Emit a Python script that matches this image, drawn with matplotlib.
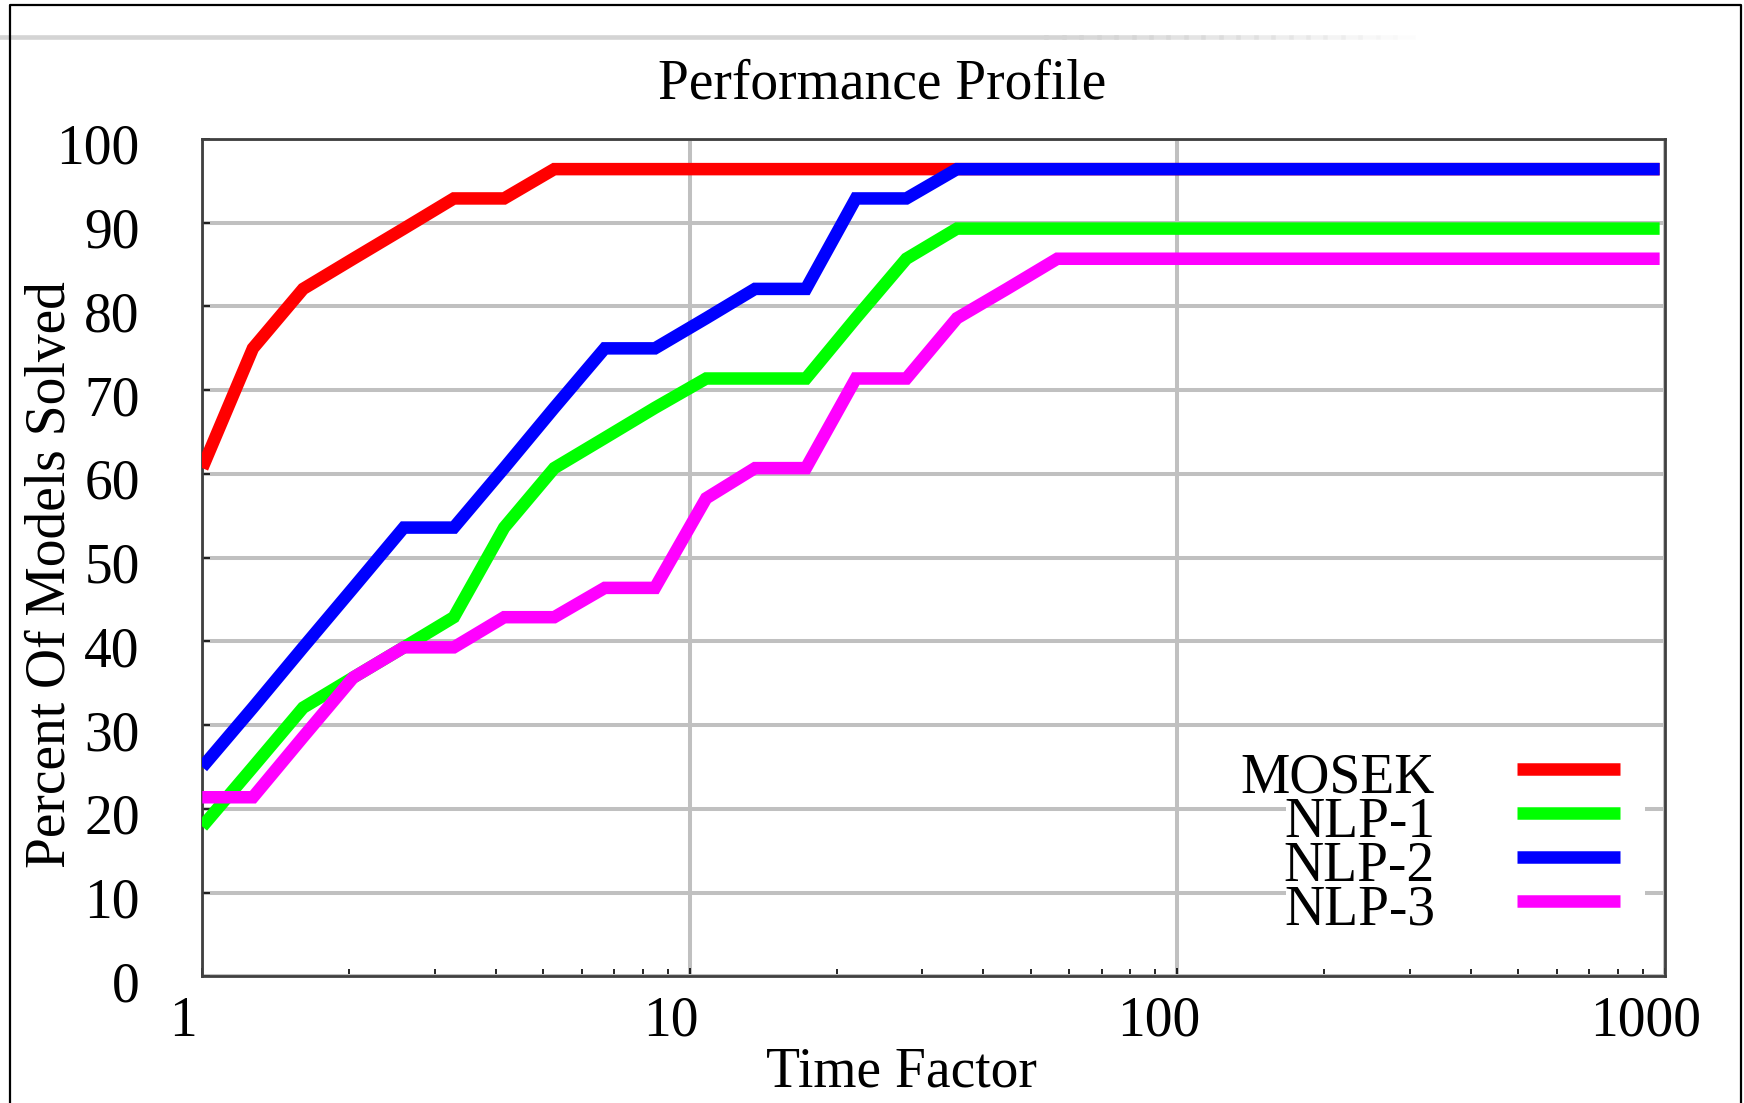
import matplotlib
matplotlib.use("Agg")
from matplotlib import pyplot as plt
import matplotlib.transforms as mtransforms
from matplotlib.ticker import NullFormatter
import numpy as np

plt.rcParams['font.family'] = ['Liberation Serif', 'DejaVu Serif']

## Du lieu doc tu hinh (28 mo hinh -> buoc 3.57 %)
time_factor = [1.0, 1.27, 1.61, 2.04, 2.59, 3.28, 4.16, 5.27, 6.69, 8.48,
               10.8, 13.6, 17.3, 21.9, 27.8, 35.3, 44.7, 56.7, 975]
mosek = [60.7, 75.0, 82.1, 85.7, 89.3, 92.9, 92.9, 96.4, 96.4, 96.4,
         96.4, 96.4, 96.4, 96.4, 96.4, 96.4, 96.4, 96.4, 96.4]
nlp1 = [17.9, 25.0, 32.1, 35.7, 39.3, 42.9, 53.6, 60.7, 64.3, 67.9,
        71.4, 71.4, 71.4, 78.6, 85.7, 89.3, 89.3, 89.3, 89.3]
nlp2 = [25.0, 32.1, 39.3, 46.4, 53.6, 53.6, 60.7, 67.9, 75.0, 75.0,
        78.6, 82.1, 82.1, 92.9, 92.9, 96.4, 96.4, 96.4, 96.4]
nlp3 = [21.4, 21.4, 28.6, 35.7, 39.3, 39.3, 42.9, 42.9, 46.4, 46.4,
        57.1, 60.7, 60.7, 71.4, 71.4, 78.6, 82.1, 85.7, 85.7]

names = ["MOSEK", "NLP-1", "NLP-2", "NLP-3"]
series = [mosek, nlp1, nlp2, nlp3]
colors = ["#ff0000", "#00ff00", "#0000ff", "#ff00ff"]

x_ticks = [1, 10, 100, 1000]
x_labels = ["1", "10", "100", "1000"]
y_ticks = list(range(0, 101, 10))

fig = plt.figure(figsize=(17.44, 11.03), dpi=100)
ax = fig.add_axes([0.116, 0.1147, 0.8387, 0.7593])

for vals, col in zip(series, colors):
    ax.plot(time_factor, vals, color=col, lw=9, solid_joinstyle='miter',
            solid_capstyle='butt', zorder=3)

ax.set_xscale('log')
ax.set_xlim(1, 1000)
ax.set_ylim(0, 100)
ax.set_xticks(x_ticks, labels=x_labels)
ax.set_yticks(y_ticks)
ax.xaxis.set_minor_formatter(NullFormatter())
ax.set_axisbelow(True)
ax.grid(which='major', color='#c0c0c0', lw=2.9)

ax.tick_params(axis='both', which='major', direction='in', length=6, width=1.2,
               color='black', labelsize=40)
ax.tick_params(axis='x', which='major', pad=14)
ax.tick_params(axis='y', which='major', pad=45)
ax.tick_params(axis='x', which='minor', direction='in', length=5, width=1.2, color='black')
ax.tick_params(axis='y', which='minor', left=False)
for s in ax.spines.values():
    s.set_color('#404040')
    s.set_linewidth(2)

# day nhan truc x sang trai mot chut, nhan y xuong mot chut
dx = mtransforms.ScaledTranslation(-0.19, 0, fig.dpi_scale_trans)
dy = mtransforms.ScaledTranslation(0, -0.05, fig.dpi_scale_trans)
for t in ax.xaxis.get_major_ticks():
    t.label1.set_transform(t.label1.get_transform() + dx)
for t in ax.yaxis.get_major_ticks():
    t.label1.set_transform(t.label1.get_transform() + dy)

# chu thich (ve tay)
ax.add_patch(plt.Rectangle((0.741, 0.044), 0.245, 0.238, transform=ax.transAxes,
                           facecolor='white', edgecolor='none', zorder=2))
text_y = [0.2191, 0.1666, 0.1140, 0.0615]
line_y = [0.2478, 0.1952, 0.1427, 0.0901]
for name, col, ty, ly in zip(names, colors, text_y, line_y):
    ax.text(0.8428, ty, name, transform=ax.transAxes, ha='right', va='baseline',
            fontsize=40, zorder=4)
    ax.plot([0.8988, 0.9692], [ly, ly], transform=ax.transAxes, color=col, lw=9,
            solid_capstyle='butt', clip_on=False, zorder=4)

fig.text(0.506, 0.911, "Performance Profile", ha='center', va='baseline', fontsize=40)
fig.text(0.5166, 0.0148, "Time Factor", ha='center', va='baseline', fontsize=40)
fig.text(0.029, 0.479, "Percent Of Models Solved", rotation=90, ha='center',
         va='center', fontsize=40)

# khung ngoai va duong xam phia tren
fig.add_artist(plt.Line2D([0.0057, 0.0057, 0.9983, 0.9983], [0, 0.9955, 0.9955, 0],
                          transform=fig.transFigure, color='black', lw=1.6))
fig.add_artist(plt.Line2D([0, 0.6], [0.9665, 0.9665], transform=fig.transFigure,
                          color='#d4d4d4', lw=3.3, zorder=0))
fade = np.linspace(0.6, 0.81, 22)
for i in range(len(fade) - 1):
    a = 1 - i / (len(fade) - 1)
    fig.add_artist(plt.Line2D([fade[i], fade[i + 1]], [0.9665, 0.9665],
                              transform=fig.transFigure, color='#d4d4d4', lw=3.3,
                              alpha=a, zorder=0))

fig.savefig("out.png", dpi=100)
